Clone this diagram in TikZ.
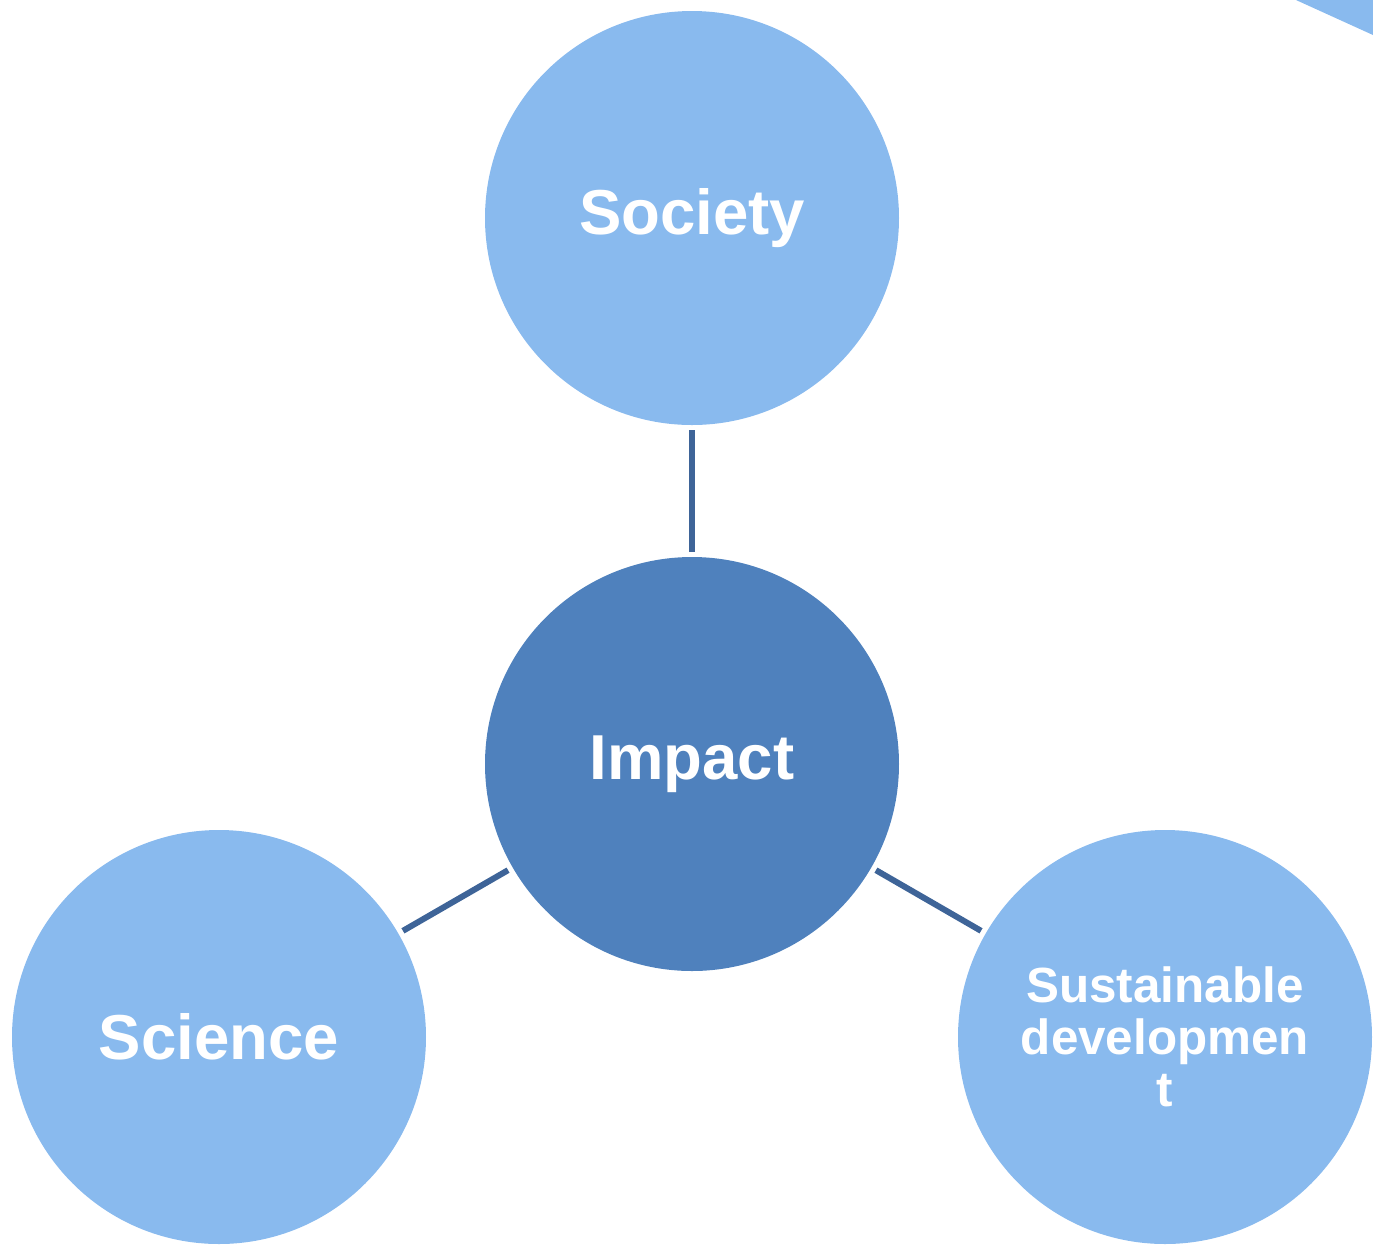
\documentclass[tikz,border=0pt]{standalone}
\usepackage{fontspec}
\setmainfont{Liberation Sans}
\definecolor{lightblue}{RGB}{137,186,238}
\definecolor{darkblue}{RGB}{79,129,189}
\definecolor{linkblue}{RGB}{62,100,152}
\begin{document}
\begin{tikzpicture}[x=0.5pt,y=-0.5pt]
\tikzstyle{vertex}=[circle, fill=lightblue, minimum size=207pt, inner sep=0pt, text=white, font=\fontsize{31.75}{36}\selectfont\bfseries]
\tikzstyle{link}=[draw=linkblue, line width=3pt, shorten <=2.5pt, shorten >=2.5pt]
\useasboundingbox (0,0) rectangle (1373,1255);
\fill[lightblue] (1296,0) -- (1373,0) -- (1373,35) -- cycle;
\node[vertex, fill=darkblue] (1) at (692,764) {Impact};
\node[vertex] (2) at (692,218) {Society};
\node[vertex] (3) at (219,1037) {Science};
\node[vertex, align=center, font=\fontsize{24.7}{26}\selectfont\bfseries] (4) at (1165,1037) {Sustainable\\developmen\\t};

\draw[link] (2)--(1);
\draw[link] (1)--(3);
\draw[link] (1)--(4);

  \end{tikzpicture}
\end{document}
